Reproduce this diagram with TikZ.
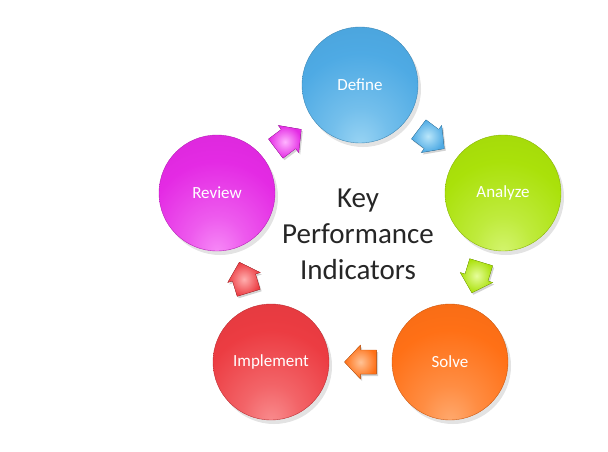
\documentclass[tikz,border=0pt]{standalone}
\usepackage{fontspec}
\setmainfont{Carlito}
\usetikzlibrary{shadows,calc}
\definecolor{cblue}{RGB}{78,170,228}
\definecolor{lblue}{RGB}{185,230,250}
\definecolor{cgreen}{RGB}{170,225,10}
\definecolor{lgreen}{RGB}{230,253,155}
\definecolor{corange}{RGB}{255,112,22}
\definecolor{lorange}{RGB}{255,195,150}
\definecolor{cred}{RGB}{236,60,66}
\definecolor{lred}{RGB}{255,175,175}
\definecolor{cmag}{RGB}{228,42,228}
\definecolor{lmag}{RGB}{255,180,255}
\newcommand\makeball[3]{\pgfdeclareradialshading{#1}{\pgfpoint{0bp}{-26bp}}{color(0bp)=(#2!30!#3); color(12bp)=(#2!65!#3); color(30bp)=(#2); color(56bp)=(#2!92!black); color(68bp)=(#2!88!white); color(80bp)=(#2!75!white)}}
\makeball{ballblue}{cblue}{lblue}
\makeball{ballgreen}{cgreen}{lgreen}
\makeball{ballorange}{corange}{lorange}
\makeball{ballred}{cred}{lred}
\makeball{ballmag}{cmag}{lmag}
\tikzset{
  stage/.style 2 args={circle, minimum size=116pt, inner sep=0pt, text=white,
    font=\fontsize{17}{20}\selectfont, draw=#1!80!black, line width=0.4pt,
    shading=#2,
    drop shadow={opacity=0.22, shadow xshift=3pt, shadow yshift=-4pt}},
  pics/flowarrow/.style 2 args={code={
    \filldraw[shade, inner color=#2, outer color=#1, draw=#1!80!black, line width=0.3pt,
      drop shadow={opacity=0.35, shadow xshift=1.5pt, shadow yshift=-2pt}]
      (-16,-12) -- (0,-12) -- (0,-17) -- (16,0) -- (0,17) -- (0,12) -- (-16,12) -- cycle;}},
}
\begin{document}
\begin{tikzpicture}[x=1pt,y=-1pt]
\useasboundingbox (0,0) rectangle (608,452);
\node[stage={cblue}{ballblue}]     (define)    at (360,85)  {Define};
\node[stage={cgreen}{ballgreen}]   (analyze)   at (503,193) {Analyze};
\node[stage={corange}{ballorange}] (solve)     at (450,362) {Solve};
\node[stage={cred}{ballred}]       (implement) at (271,362) {Implement};
\node[stage={cmag}{ballmag}]       (review)    at (217,193) {Review};
\node[font=\fontsize{29}{36}\selectfont, text=black!85, align=center] (kpi) at (358,234)
  {Key\\Performance\\Indicators};
\coordinate (m1) at ($(define)!0.5!(analyze)$);
\coordinate (m2) at ($(analyze)!0.5!(solve)$);
\coordinate (m3) at ($(solve)!0.5!(implement)$);
\coordinate (m4) at ($(implement)!0.5!(review)$);
\coordinate (m5) at ($(review)!0.5!(define)$);
\pic[rotate=-37]  (a1) at (m1) {flowarrow={cblue}{lblue}};
\pic[rotate=-107] (a2) at (m2) {flowarrow={cgreen}{lgreen}};
\pic[rotate=180]  (a3) at (m3) {flowarrow={corange}{lorange}};
\pic[rotate=107]  (a4) at (m4) {flowarrow={cred}{lred}};
\pic[rotate=37]   (a5) at (m5) {flowarrow={cmag}{lmag}};
\end{tikzpicture}
\end{document}
